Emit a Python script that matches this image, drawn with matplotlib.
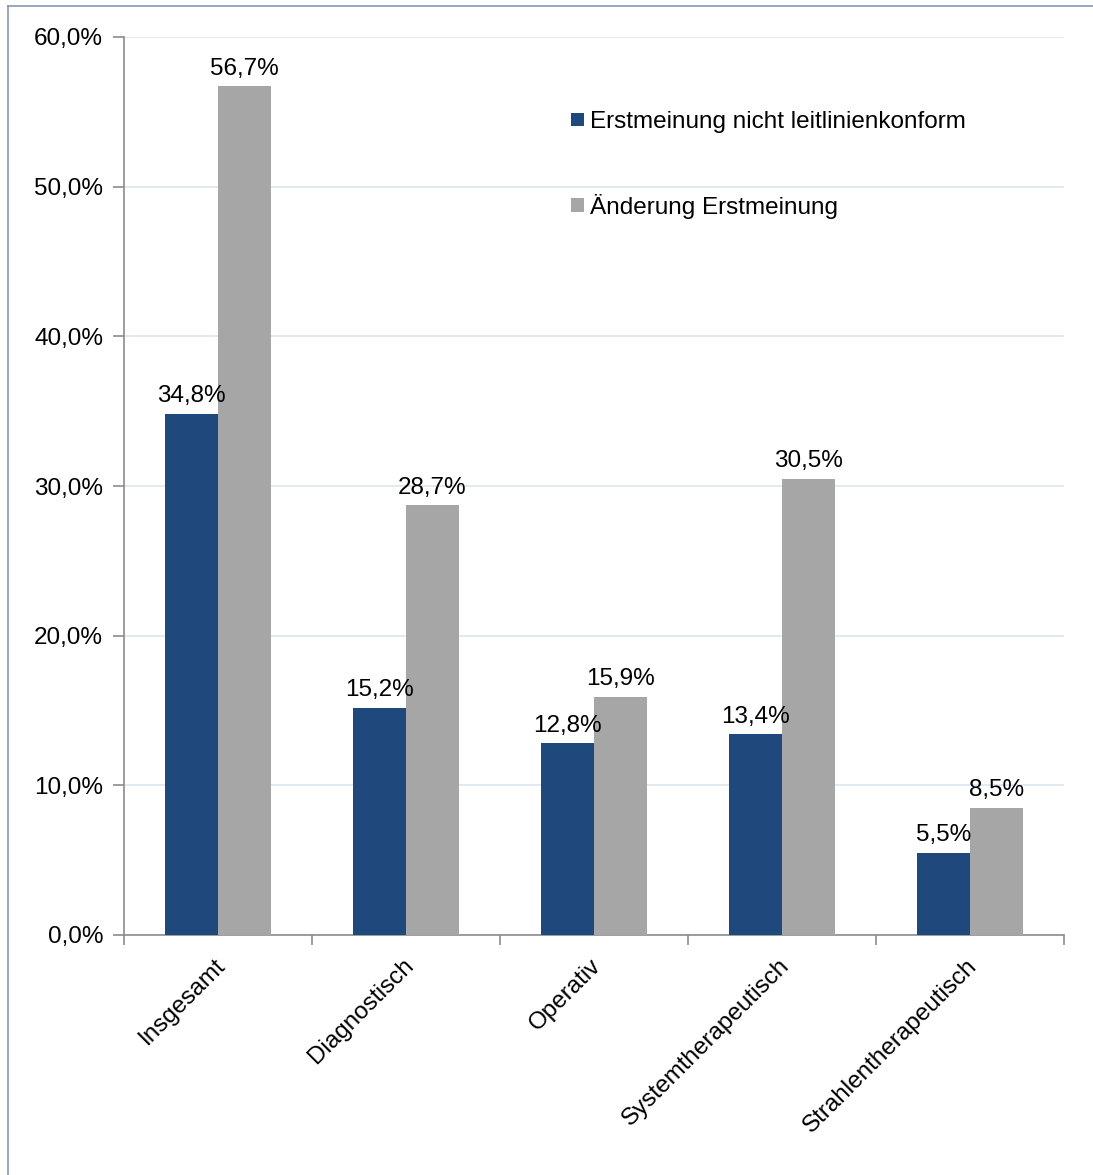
import numpy as np
import matplotlib.pyplot as plt
from matplotlib.patches import Patch
from matplotlib.lines import Line2D
from matplotlib.ticker import FuncFormatter, FixedLocator

plt.rcParams['font.family'] = ['Liberation Sans', 'DejaVu Sans']

# Daten
categories = ['Insgesamt', 'Diagnostisch', 'Operativ', 'Systemtherapeutisch', 'Strahlentherapeutisch']
nicht_konform = [34.8, 15.2, 12.8, 13.4, 5.5]
aenderung = [56.7, 28.7, 15.9, 30.5, 8.5]
series_names = ['Erstmeinung nicht leitlinienkonform', 'Änderung Erstmeinung']
y_ticks = [0, 10, 20, 30, 40, 50, 60]

blue = '#1f497d'
gray = '#a6a6a6'
fs = 17.5

fig = plt.figure(figsize=(10.93, 11.75), dpi=100)
ax = fig.add_axes([124 / 1093, 1 - 935 / 1175, 940 / 1093, 898 / 1175])

x = np.arange(len(categories))
w = 0.28
b1 = ax.bar(x - w / 2, nicht_konform, width=w, color=blue, zorder=3)
b2 = ax.bar(x + w / 2, aenderung, width=w, color=gray, zorder=3)

# Werte über den Balken
for bars, vals in [(b1, nicht_konform), (b2, aenderung)]:
    for r, v in zip(bars, vals):
        ax.text(r.get_x() + r.get_width() / 2, v + 0.45, f'{v:.1f}%'.replace('.', ','),
                ha='center', va='bottom', fontsize=fs, color='black')

ax.set_xlim(-0.5, len(categories) - 0.5)
ax.set_ylim(0, 60)
ax.set_yticks(y_ticks)
ax.yaxis.set_major_formatter(FuncFormatter(lambda v, p: f'{v:.1f}%'.replace('.', ',')))
ax.grid(axis='y', color='#dce6f0', linewidth=1.2, zorder=0)

# x-Achse: Ticks an den Kategoriegrenzen, Beschriftungen gedreht
ax.xaxis.set_major_locator(FixedLocator(np.arange(-0.5, len(categories), 1.0)))
ax.set_xticklabels([])
for i, c in enumerate(categories):
    ax.annotate(c, xy=(i - 0.02, 0), xycoords=('data', 'axes fraction'),
                xytext=(0, -14), textcoords='offset points',
                rotation=45, ha='right', va='top', rotation_mode='anchor',
                fontsize=fs)

for s in ['top', 'right']:
    ax.spines[s].set_visible(False)
for s in ['left', 'bottom']:
    ax.spines[s].set_color('#8c8c8c')
    ax.spines[s].set_linewidth(1.2)
ax.tick_params(axis='y', length=8, width=1.2, color='#8c8c8c', labelsize=fs, pad=7)
ax.tick_params(axis='x', length=7, width=1.2, color='#8c8c8c')

handles = [Patch(facecolor=blue), Patch(facecolor=gray)]
ax.legend(handles, series_names, loc='upper left', bbox_to_anchor=(0.463, 0.931),
          frameon=False, fontsize=fs, handlelength=0.5, handleheight=0.5,
          handletextpad=0.25, labelspacing=2.5, borderpad=0)

# Rahmen um die Grafik
col = '#8497b0'
fig.add_artist(Line2D([8 / 1093, 8 / 1093], [0, 1 - 6 / 1175], transform=fig.transFigure, color=col, linewidth=1.2))
fig.add_artist(Line2D([8 / 1093, 1], [1 - 6 / 1175, 1 - 6 / 1175], transform=fig.transFigure, color=col, linewidth=1.2))

fig.savefig('out.png', dpi=100)
